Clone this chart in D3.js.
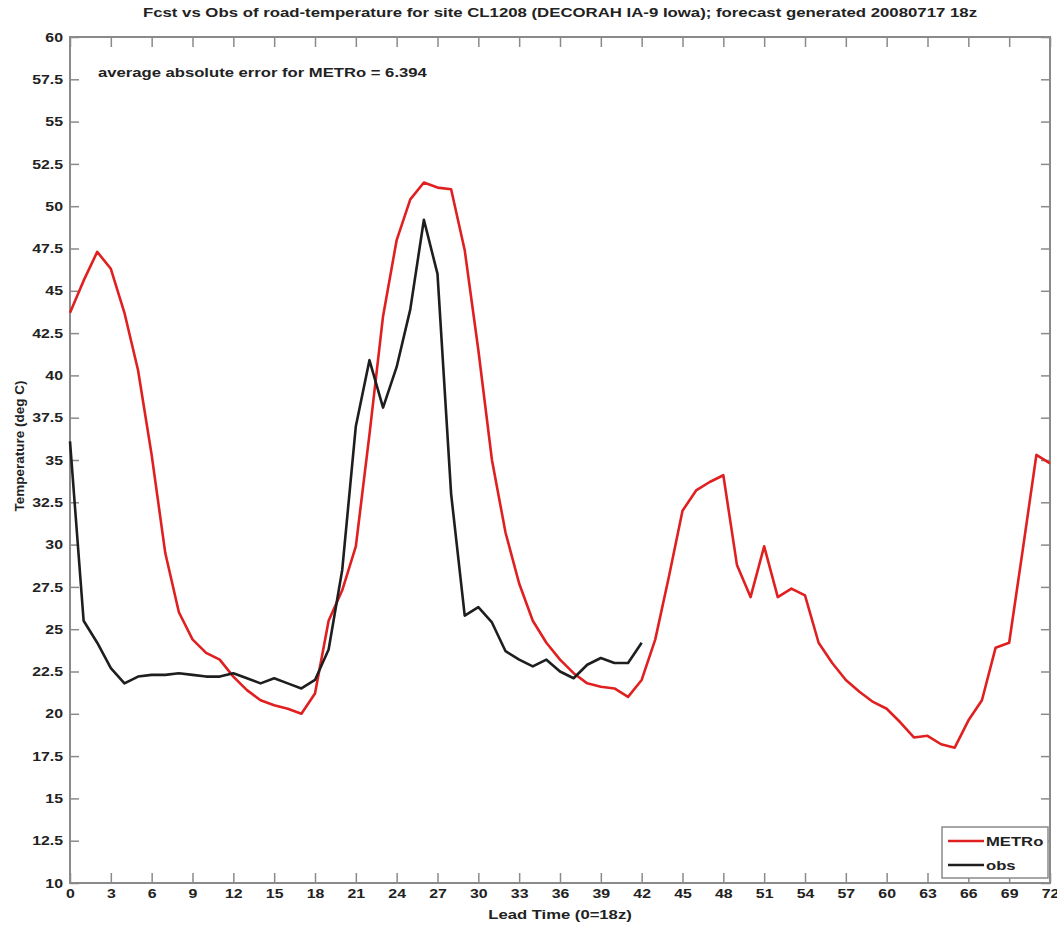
<!DOCTYPE html>
<html>
<head>
<meta charset="utf-8">
<script src="https://cdn.jsdelivr.net/npm/d3@7"></script>
<style>
  body { margin: 0; background: #fff; }
  text { font-family: "Liberation Sans", Arial, sans-serif; font-weight: bold; fill: #222; }
</style>
</head>
<body>
<div id="chart"></div>
<script>
// Forecast (METRo) Road Temperature, One Value Per Lead Hour 0..72
const metroTemps = [43.7, 45.6, 47.3, 46.3, 43.7, 40.3, 35.3, 29.5, 26.0, 24.4, 23.6, 23.2, 22.2, 21.4, 20.8, 20.5, 20.3, 20.0, 21.2,
  25.5, 27.3, 29.9, 36.5, 43.5, 48.0, 50.4, 51.4, 51.1, 51.0, 47.4, 41.5, 35.0, 30.7, 27.7, 25.5, 24.2, 23.2, 22.4, 21.8, 21.6,
  21.5, 21.0, 22.0, 24.4, 28.1, 32.0, 33.2, 33.7, 34.1, 28.8, 26.9, 29.9, 26.9, 27.4, 27.0, 24.2, 23.0, 22.0, 21.3, 20.7, 20.3,
  19.5, 18.6, 18.7, 18.2, 18.0, 19.6, 20.8, 23.9, 24.2, 29.7, 35.3, 34.8];

// Observed Road Temperature, Lead Hours 0..42
const obsTemps = [36.1, 25.5, 24.2, 22.7, 21.8, 22.2, 22.3, 22.3, 22.4, 22.3, 22.2, 22.2, 22.4, 22.1, 21.8, 22.1, 21.8, 21.5, 22.0,
  23.8, 28.5, 37.0, 40.9, 38.1, 40.5, 43.9, 49.2, 46.0, 33.0, 25.8, 26.3, 25.4, 23.7, 23.2, 22.8, 23.2, 22.5, 22.1, 22.9, 23.3,
  23.0, 23.0, 24.2];

// Tick Values
const xTicks = d3.range(0, 73, 3);
const yTicks = d3.range(10, 60.01, 2.5);

// Series Labels & Texts
const seriesNames = ["METRo", "obs"];
const titleText = "Fcst vs Obs of road-temperature for site CL1208 (DECORAH IA-9 Iowa); forecast generated 20080717 18z";
const errorText = "average absolute error for METRo = 6.394";

// Initialise Dimensions
let w = 1057, h = 925;
let margin = { top: 37, right: 7, bottom: 42, left: 70 };
let iw = w - margin.left - margin.right, ih = h - margin.top - margin.bottom;

// Render SVG On DOM
let svg = d3.select("#chart").append("svg").attr("width", w).attr("height", h);
let g = svg.append("g").attr("transform", `translate(${margin.left},${margin.top})`);

// Widen Text Horizontally (Reference Figure Is Stretched Sideways)
function stretch(sel, k) {
  sel.each(function() {
    let len = this.getComputedTextLength();
    d3.select(this).attr("textLength", len * k).attr("lengthAdjust", "spacingAndGlyphs");
  });
}

// Scales
let x = d3.scaleLinear().domain([0, 72]).range([0, iw]);
let y = d3.scaleLinear().domain([10, 60]).range([ih, 0]);

// Axes With Inward Ticks (MATLAB Style)
const axisColor = "#8a8a8a";
function styleAxis(sel) {
  sel.select(".domain").remove();
  sel.selectAll(".tick line").attr("stroke", axisColor).attr("stroke-width", 1.5);
  sel.selectAll(".tick text").style("font-size", "13px").attr("fill", "#222").call(stretch, 1.22);
}
g.append("g").attr("transform", `translate(0,${ih})`)
  .call(d3.axisBottom(x).tickValues(xTicks).tickSizeInner(-10).tickSizeOuter(0).tickPadding(6).tickFormat(d => d))
  .call(styleAxis);
g.append("g")
  .call(d3.axisTop(x).tickValues(xTicks).tickSizeInner(-10).tickSizeOuter(0).tickFormat(""))
  .call(styleAxis);
g.append("g")
  .call(d3.axisLeft(y).tickValues(yTicks).tickSizeInner(-9).tickSizeOuter(0).tickPadding(7).tickFormat(d => d))
  .call(styleAxis);
g.append("g").attr("transform", `translate(${iw},0)`)
  .call(d3.axisRight(y).tickValues(yTicks).tickSizeInner(-9).tickSizeOuter(0).tickFormat(""))
  .call(styleAxis);

// Plot Box
g.append("rect").attr("width", iw).attr("height", ih).attr("fill", "none").attr("stroke", axisColor).attr("stroke-width", 2);

// Lines
let line = d3.line().x((d, i) => x(i)).y(d => y(d));
g.append("path").datum(metroTemps).attr("d", line).attr("fill", "none").attr("stroke", "#e02020").attr("stroke-width", 2.6).attr("stroke-linejoin", "round");
g.append("path").datum(obsTemps).attr("d", line).attr("fill", "none").attr("stroke", "#1e1e1e").attr("stroke-width", 2.6).attr("stroke-linejoin", "round");

// Title & Annotations
svg.append("text").text(titleText).attr("x", margin.left + iw / 2).attr("y", 17).attr("text-anchor", "middle").style("font-size", "13px").call(stretch, 1.29);
g.append("text").text(errorText).attr("x", 28).attr("y", 40).style("font-size", "13px").call(stretch, 1.28);

// Axis Labels
svg.append("text").text("Lead Time (0=18z)").attr("x", margin.left + iw / 2).attr("y", 919).attr("text-anchor", "middle").style("font-size", "13px").call(stretch, 1.28);
svg.append("text").text("Temperature (deg C)").attr("transform", "translate(24,446) rotate(-90)").attr("text-anchor", "middle").style("font-size", "13.5px");

// Legend
let legend = svg.append("g").attr("transform", "translate(942,827)");
legend.append("rect").attr("width", 106).attr("height", 51).attr("fill", "#fff").attr("stroke", axisColor).attr("stroke-width", 1.5);
const legendColors = ["#e02020", "#1e1e1e"];
seriesNames.forEach((name, i) => {
  legend.append("line").attr("x1", 6).attr("x2", 42).attr("y1", 14 + i * 24).attr("y2", 14 + i * 24).attr("stroke", legendColors[i]).attr("stroke-width", 2.6);
  legend.append("text").text(name).attr("x", 44).attr("y", 19 + i * 24).style("font-size", "13px").call(stretch, 1.28);
});
</script>
</body>
</html>
